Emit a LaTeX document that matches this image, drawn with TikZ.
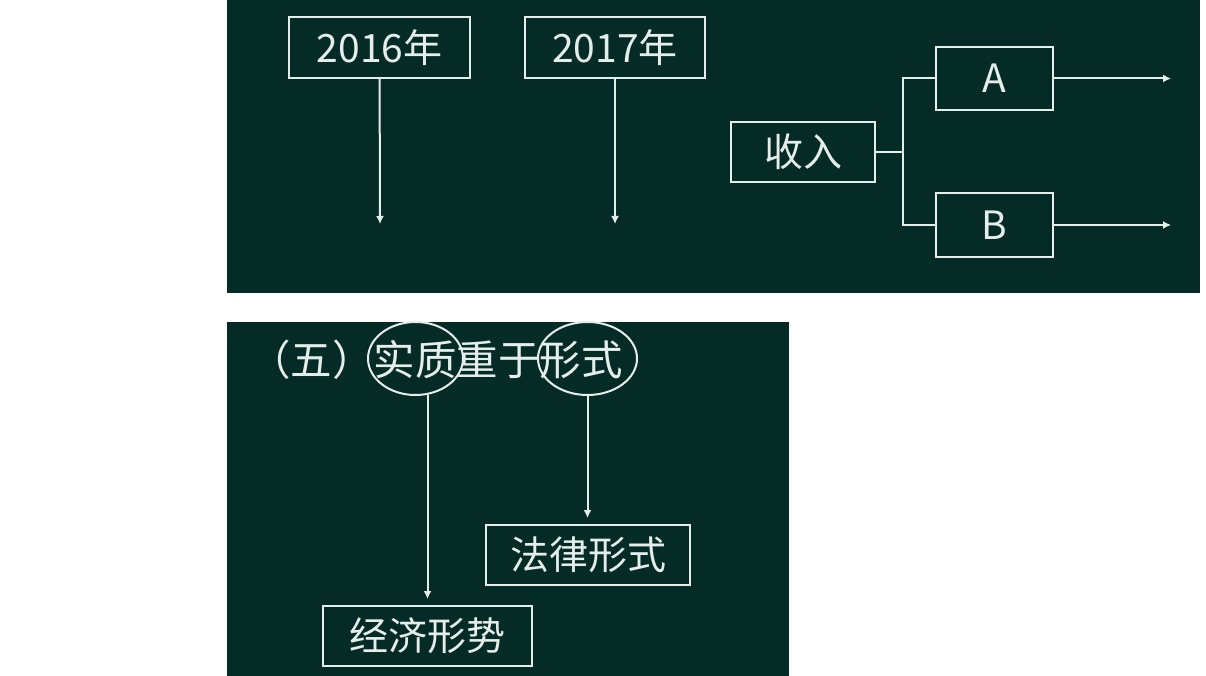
\documentclass[tikz,border=0pt]{standalone}
\usepackage{fontspec}
\usepackage{tikz}
\usetikzlibrary{shapes.geometric,arrows.meta}
\newfontfamily\cjk{Noto Sans CJK SC}
\definecolor{board}{HTML}{052B27}
\definecolor{chalk}{HTML}{E6EEEB}

\begin{document}
\begin{tikzpicture}[x=1pt,y=-1pt,
	box/.style={shape=rectangle,draw=chalk,line width=2pt,text=chalk,inner sep=0pt,outer sep=0pt,font=\cjk\fontsize{39}{40}\selectfont},
	ring/.style={shape=ellipse,draw=chalk,line width=2pt,inner sep=0pt,outer sep=0pt,minimum height=73pt},
	wire/.style={draw=chalk,line width=2pt},
	arr/.style={wire,-{Latex[length=8pt,width=8pt]}}]
	
	\useasboundingbox (0,0) rectangle (1206,676);
	\fill[board] (227,0) rectangle (1200,293);
	\fill[board] (227,322) rectangle (789,676);
	
	% top board
	\node[box,minimum width=181pt,minimum height=61pt] (y16) at (379.5,47.5)  {2016年};
	\node[box,minimum width=180pt,minimum height=61pt] (y17) at (615,47.5)    {2017年};
	\node[box,minimum width=144pt,minimum height=60pt] (sr)  at (803,152)     {收入};
	\node[box,minimum width=117pt,minimum height=63pt] (a)   at (994.5,78.5)  {A};
	\node[box,minimum width=117pt,minimum height=64pt] (b)   at (994.5,225)   {B};
	\coordinate (y16e) at (380,224);
	\coordinate (y17e) at (615,224);
	\coordinate (jn)   at (903,152);
	\coordinate (ae)   at (1171,78.5);
	\coordinate (be)   at (1171,225);
	\path[arr] (y16) -- (y16e);
	\path[arr] (y17) -- (y17e);
	\path[wire] (sr) -- (jn);
	\path[wire] (a.west) -| (jn) |- (b.west);
	\path[arr] (a) -- (ae);
	\path[arr] (b) -- (be);
	
	% bottom board
	\node[text=chalk,inner sep=0pt,anchor=west,font=\cjk\fontsize{41.5}{42}\selectfont] (title) at (249,360) {（五）实质重于形式};
	\node[ring,minimum width=95pt] (e1) at (415.5,358.5) {};
	\node[ring,minimum width=99pt] (e2) at (587.5,358.5) {};
	\node[box,minimum width=209pt,minimum height=60pt] (jj) at (427.5,636) {经济形势};
	\node[box,minimum width=204pt,minimum height=60pt] (fl) at (588,555)   {法律形式};
	\path[arr,shorten >=7pt] (e1.south -| jj.north) -- (jj.north);
	\path[arr,shorten >=7pt] (e2.south) -- (e2.south |- fl.north);
	
	\end{tikzpicture}
\end{document}
